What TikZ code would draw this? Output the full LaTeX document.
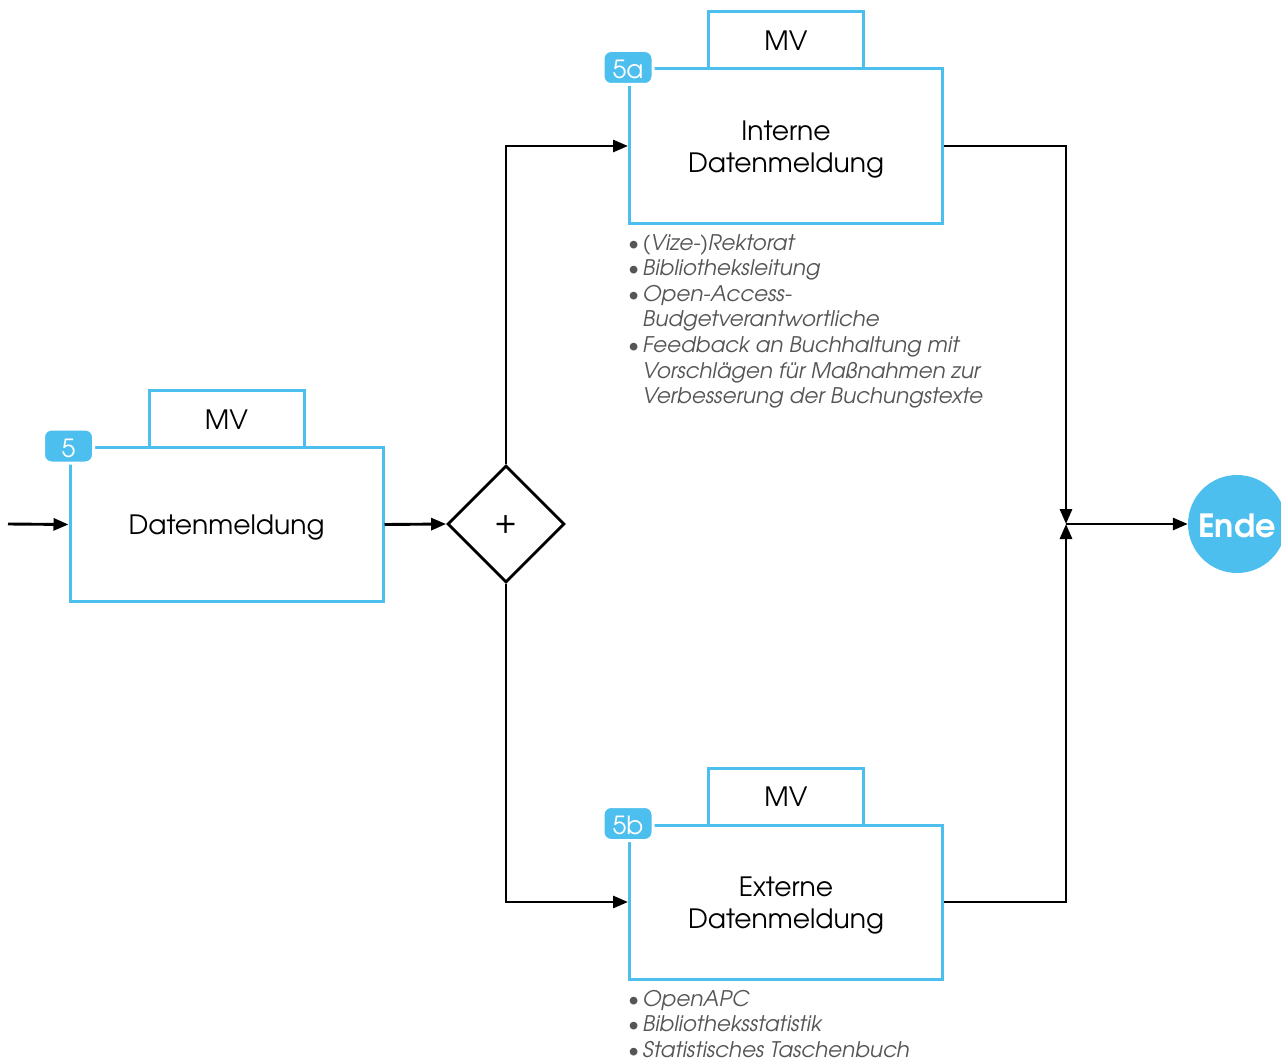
\documentclass[tikz,border=0pt]{standalone}
\usepackage{fontspec}
\setmainfont{TeX Gyre Adventor}
\usetikzlibrary{arrows.meta,shapes.geometric}
\definecolor{mvblue}{RGB}{77,191,238}
\definecolor{notegray}{RGB}{85,85,85}
\newcommand{\itembullet}{\makebox[14.5pt][l]{\textbullet}}
\newcommand{\itemgap}{\hspace*{14.5pt}}
% lower a caption visually while keeping its measured size
\newcommand{\lowered}[2]{\raisebox{-#1}[\height][\depth]{#2}}
\newcommand{\boxtext}[1]{\lowered{4pt}{\begin{tabular}{@{}c@{}}#1\end{tabular}}}
\begin{document}
\begin{tikzpicture}[x=1pt,y=-1pt,
  procbox/.style={draw=mvblue, line width=3pt, minimum width=313pt, minimum height=154pt,
    inner sep=0pt, align=center, font=\fontsize{26.6}{32}\selectfont},
  tabbox/.style={draw=mvblue, line width=3pt, minimum width=155pt, minimum height=57pt,
    inner sep=0pt, outer sep=0pt, anchor=south, yshift=-1.5pt,
    font=\fontsize{26.6}{32}\selectfont},
  badge/.style={fill=mvblue, draw=white, line width=3pt, rounded corners=8pt,
    minimum width=50pt, minimum height=34pt, inner sep=0pt, text=white,
    font=\fontsize{25}{30}\selectfont},
  gate/.style={diamond, draw=black, line width=2.8pt, minimum width=117pt, minimum height=117pt,
    inner sep=0pt, font=\fontsize{32}{36}\selectfont},
  endnode/.style={circle, fill=mvblue, minimum size=98pt, inner sep=0pt, text=white,
    font=\fontsize{32}{36}\selectfont\bfseries},
  note/.style={anchor=north west, inner sep=0pt, align=left, text=notegray,
    font=\fontsize{21.5}{25.6}\selectfont\itshape},
  flow/.style={draw=black, line width=2.9pt, -{Triangle[length=15pt,width=12pt]}}]
\useasboundingbox (0,0) rectangle (1281,1062);

% step 5: data report
\node[procbox] (b5) at (226.5,524.5) {\boxtext{Datenmeldung}};
\node[tabbox] (m5) at (b5.north) {\boxtext{MV}};
\node[badge] (n5) at (b5.north west) {\lowered{2pt}{5}};

% step 5a: internal report
\node[procbox] (b5a) at (786,146) {\boxtext{Interne\\Datenmeldung}};
\node[tabbox] (m5a) at (b5a.north) {\boxtext{MV}};
\node[badge] (n5a) at (b5a.north west) {\lowered{2pt}{5a}};
\node[note] (t5a) at (628,234) {\itembullet(Vize-)Rektorat\\
  \itembullet Bibliotheksleitung\\
  \itembullet Open-Access-\\
  \itemgap Budgetverantwortliche\\
  \itembullet Feedback an Buchhaltung mit\\
  \itemgap Vorschlägen für Maßnahmen zur\\
  \itemgap Verbesserung der Buchungstexte};

% step 5b: external report
\node[procbox] (b5b) at (786,902) {\boxtext{Externe\\Datenmeldung}};
\node[tabbox] (m5b) at (b5b.north) {\boxtext{MV}};
\node[badge] (n5b) at (b5b.north west) {\lowered{2pt}{5b}};
\node[note] (t5b) at (628,990) {\itembullet OpenAPC\\
  \itembullet Bibliotheksstatistik\\
  \itembullet Statistisches Taschenbuch};

% parallel gateway, join point and end event
\node[gate] (g) at (506,524) {+};
\coordinate (j) at (1066,524);
\coordinate (start) at (8,524);
\node[endnode] (end) at (1237,524) {\lowered{2pt}{Ende}};

% connectors
\draw[flow] (start) -- (b5.west);
\draw[flow] (b5.east) -- (g.west);
\draw[flow] (g.north) |- (b5a.west);
\draw[flow] (g.south) |- (b5b.west);
\draw[flow] (b5a.east) -| (j);
\draw[flow] (b5b.east) -| (j);
\draw[flow] (j) -- (end.west);
\end{tikzpicture}
\end{document}
